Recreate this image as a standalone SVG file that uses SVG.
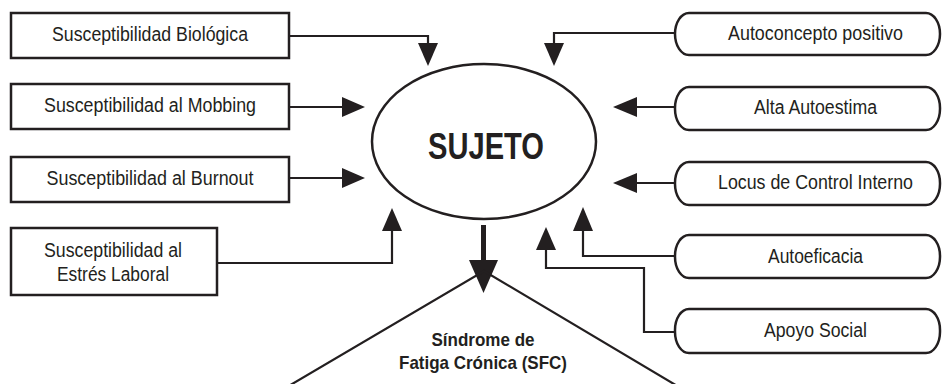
<svg xmlns="http://www.w3.org/2000/svg" width="943" height="384" viewBox="0 0 943 384">
<style>
.box{fill:#fff;stroke:#231f20;stroke-width:2.5}
.ln{fill:none;stroke:#231f20;stroke-width:2.2}
.ah{fill:#231f20;stroke:none}
.t{font-family:"Liberation Sans",Arial,sans-serif;font-size:19.5px;fill:#231f20;text-anchor:middle}
.b{font-family:"Liberation Sans Narrow","Liberation Sans",Arial,sans-serif;font-weight:bold;fill:#231f20;text-anchor:middle}
</style>
<rect width="943" height="384" fill="#fff"/>
<g id="connectors">
  <path class="ln" d="M289,36 H428 V45"/>
  <polygon class="ah" points="418,43 438,43 428,66"/>
  <path class="ln" d="M289,107 H344"/>
  <polygon class="ah" points="342,97 342,117 365,107"/>
  <path class="ln" d="M289,178 H344"/>
  <polygon class="ah" points="342,168 342,188 365,178"/>
  <path class="ln" d="M217,263 H392 V230"/>
  <polygon class="ah" points="382,231 402,231 392,208"/>
  <path class="ln" d="M675,33 H554 V45"/>
  <polygon class="ah" points="544,43 564,43 554,66"/>
  <path class="ln" d="M675,107 H635"/>
  <polygon class="ah" points="637,97 637,117 613,107"/>
  <path class="ln" d="M675,183 H635"/>
  <polygon class="ah" points="637,173 637,193 613,183"/>
  <path class="ln" d="M675,256 H583 V230"/>
  <polygon class="ah" points="573,231 593,231 583,207"/>
  <path class="ln" d="M675,332 H644 V268 H546 V249"/>
  <polygon class="ah" points="536,250 556,250 546,227"/>
  <path class="ln" d="M483.5,225 V262" style="stroke-width:5"/>
  <polygon class="ah" points="469,260 498,260 483.5,293"/>
</g>
<g id="n-bio">
  <rect class="box" x="11" y="13" width="278" height="45"/>
  <text class="t" x="150" y="41" textLength="196" lengthAdjust="spacingAndGlyphs">Susceptibilidad Biológica</text>
</g>
<g id="n-mobbing">
  <rect class="box" x="11" y="84" width="278" height="45"/>
  <text class="t" x="150" y="112" textLength="212" lengthAdjust="spacingAndGlyphs">Susceptibilidad al Mobbing</text>
</g>
<g id="n-burnout">
  <rect class="box" x="11" y="157" width="278" height="45"/>
  <text class="t" x="150" y="185" textLength="207" lengthAdjust="spacingAndGlyphs">Susceptibilidad al Burnout</text>
</g>
<g id="n-estres">
  <rect class="box" x="11" y="228" width="206" height="67"/>
  <text class="t" x="113" y="257" textLength="138" lengthAdjust="spacingAndGlyphs">Susceptibilidad al</text>
  <text class="t" x="113" y="281" textLength="112" lengthAdjust="spacingAndGlyphs">Estrés Laboral</text>
</g>
<g id="n-sujeto">
  <ellipse cx="484" cy="141.5" rx="112" ry="77.5" fill="#fff" stroke="#231f20" stroke-width="2.5"/>
  <text class="b" x="486" y="159" font-size="36" textLength="116" lengthAdjust="spacingAndGlyphs">SUJETO</text>
</g>
<g id="n-sfc">
  <polyline points="287,387 484,271 679,387" fill="none" stroke="#231f20" stroke-width="2.2"/>
  <text class="b" x="483" y="346" font-size="19" textLength="103" lengthAdjust="spacingAndGlyphs">Síndrome de</text>
  <text class="b" x="483" y="369" font-size="19" textLength="168" lengthAdjust="spacingAndGlyphs">Fatiga Crónica (SFC)</text>
</g>
<g id="n-autoconcepto">
  <rect class="box" x="675" y="13" width="265" height="42" rx="14" ry="21"/>
  <text class="t" x="815.5" y="40" textLength="175" lengthAdjust="spacingAndGlyphs">Autoconcepto positivo</text>
</g>
<g id="n-autoestima">
  <rect class="box" x="675" y="87" width="265" height="43" rx="14" ry="21"/>
  <text class="t" x="815.5" y="114" textLength="123" lengthAdjust="spacingAndGlyphs">Alta Autoestima</text>
</g>
<g id="n-locus">
  <rect class="box" x="675" y="162" width="265" height="43" rx="14" ry="21"/>
  <text class="t" x="815.5" y="189" textLength="195" lengthAdjust="spacingAndGlyphs">Locus de Control Interno</text>
</g>
<g id="n-autoeficacia">
  <rect class="box" x="675" y="235" width="265" height="43" rx="14" ry="21"/>
  <text class="t" x="815.5" y="263" textLength="95" lengthAdjust="spacingAndGlyphs">Autoeficacia</text>
</g>
<g id="n-apoyo">
  <rect class="box" x="675" y="309" width="265" height="44" rx="14" ry="21"/>
  <text class="t" x="815.5" y="337" textLength="103" lengthAdjust="spacingAndGlyphs">Apoyo Social</text>
</g>
</svg>
